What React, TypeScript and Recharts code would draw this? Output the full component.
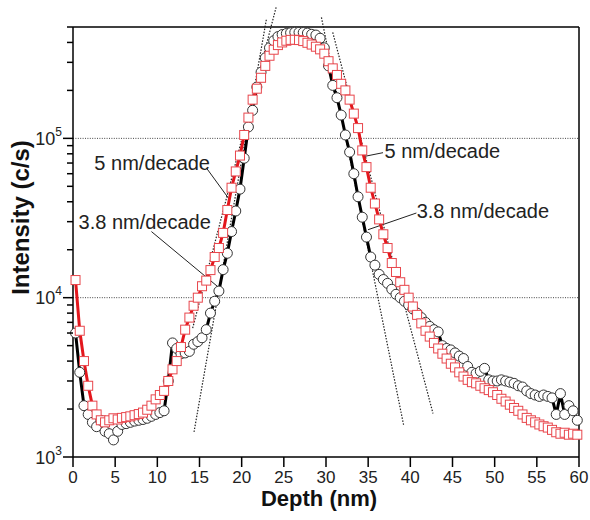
import { Line, LineChart, ReferenceDot, ReferenceLine, XAxis, YAxis } from "recharts";

// depth grid of both profiles (nm)
const depthNm = [
  0.3, 0.8, 1.3, 1.8, 2.3, 2.8, 3.3, 3.8, 4.3, 4.8,
  5.3, 5.8, 6.3, 6.8, 7.3, 7.8, 8.3, 8.8, 9.3, 9.8,
  10.3, 10.8, 11.3, 11.8, 12.3, 12.8, 13.3, 13.8, 14.3, 14.8,
  15.3, 15.8, 16.3, 16.8, 17.3, 17.8, 18.3, 18.8, 19.3, 19.8,
  20.3, 20.8, 21.3, 21.8, 22.3, 22.8, 23.3, 23.8, 24.3, 24.8,
  25.3, 25.8, 26.3, 26.8, 27.3, 27.8, 28.3, 28.8, 29.3, 29.8,
  30.3, 30.8, 31.3, 31.8, 32.3, 32.8, 33.3, 33.8, 34.3, 34.8,
  35.3, 35.8, 36.3, 36.8, 37.3, 37.8, 38.3, 38.8, 39.3, 39.8,
  40.3, 40.8, 41.3, 41.8, 42.3, 42.8, 43.3, 43.8, 44.3, 44.8,
  45.3, 45.8, 46.3, 46.8, 47.3, 47.8, 48.3, 48.8, 49.3, 49.8,
  50.3, 50.8, 51.3, 51.8, 52.3, 52.8, 53.3, 53.8, 54.3, 54.8,
  55.3, 55.8, 56.3, 56.8, 57.3, 57.8, 58.3, 58.8, 59.3, 59.8,
];

// black circles (c/s)
const circleCounts = [
  6000, 3400, 2100, 1850, 1650, 1550, 1700, 1450, 1400, 1280,
  1450, 1600, 1620, 1650, 1680, 1700, 1720, 1750, 1800, 1850,
  1900, 1950, 3000, 5200, 4800, 4450, 4500, 4600, 5100, 5300,
  5600, 6300, 8000, 9500, 11000, 15000, 19000, 26000, 35000, 48000,
  75000, 118000, 150000, 210000, 260000, 320000, 370000, 410000, 435000, 448000,
  455000, 460000, 463000, 463000, 462000, 458000, 450000, 445000, 425000, 370000,
  285000, 215000, 180000, 140000, 105000, 82000, 60000, 43000, 32000, 24000,
  18000, 16000, 14000, 13000, 12300, 11300, 10500, 10000, 9500, 9000,
  8500, 8000, 7500, 7000, 6600, 6300, 6100, 5000, 4800, 4700,
  4500, 4300, 4150, 3700, 3400, 3350, 3450, 3600, 3050, 3000,
  3000, 3050, 3000, 2950, 2900, 2800, 2750, 2600, 2500, 2450,
  2400, 2450, 2400, 2350, 1850, 2500, 1850, 2100, 1950, 1700,
];

// red squares (c/s)
const squareCounts = [
  12900, 6200, 4000, 2800, 2100, 1850, 1700, 1650, 1700, 1750,
  1720, 1760, 1780, 1800, 1830, 1860, 1900, 1980, 2100, 2300,
  2450, 2600, 3000, 3550, 4000, 4900, 6300, 7500, 8900, 10000,
  11800, 12800, 14900, 18000, 20500, 25500, 35500, 49000, 62000, 78000,
  105000, 135000, 175000, 205000, 240000, 285000, 330000, 360000, 385000, 400000,
  410000, 415000, 416000, 414000, 408000, 398000, 388000, 376000, 362000, 340000,
  305000, 275000, 250000, 220000, 200000, 175000, 143000, 116000, 84000, 66000,
  49000, 39000, 31000, 25000, 20500, 16500, 14500, 12500, 11200, 10000,
  8800, 7800, 6900, 6200, 5700, 5200, 4800, 4450, 4150, 3850,
  3650, 3400, 3200, 3050, 2950, 2900, 2800, 2700, 2630, 2550,
  2450, 2320, 2230, 2130, 2030, 1950, 1850, 1760, 1700, 1650,
  1600, 1560, 1530, 1480, 1430, 1400, 1420, 1380, 1400, 1380,
];

const xTicks = [0, 5, 10, 15, 20, 25, 30, 35, 40, 45, 50, 55, 60];
const yTicks = [
  1000, 2000, 3000, 4000, 5000, 6000, 7000, 8000, 9000,
  10000, 20000, 30000, 40000, 50000, 60000, 70000, 80000, 90000,
  100000, 200000, 300000, 400000, 500000,
];
const decadeLevels = [10000, 100000];

// dotted slope lines [depth, counts] -> [depth, counts]
const slopeLines = [
  [[14.35, 1436], [22.93, 558000]],
  [[14.19, 6440], [24.12, 676000]],
  [[29.46, 574000], [39.21, 1581]],
  [[30.8, 462000], [42.69, 1875]],
];

const noteTexts = ["5 nm/decade", "3.8 nm/decade", "5 nm/decade", "3.8 nm/decade"];
const noteAt = [[9.39, 70300], [8.5, 29900], [43.8, 82800], [48.6, 34800]];
const noteLeaders = [
  [[15.82, 65200], [18.58, 41100]],
  [[9.3, 26000], [17.19, 11700]],
  [[34.59, 77100], [36.76, 81300]],
  [[34.98, 26700], [40.72, 34000]],
];

const rows = depthNm.map((d, i) => ({ depth: d, circles: circleCounts[i], squares: squareCounts[i] }));

const FONT = "'Liberation Sans', Arial, Helvetica, sans-serif";
const majors = [1000, 10000, 100000];

function LogTick(props: any) {
  const { x, y, payload } = props;
  const v = payload.value;
  const major = majors.includes(v);
  return (
    <g>
      <line x1={x - (major ? 10 : 6)} x2={x} y1={y} y2={y} stroke="#000" strokeWidth={1.5} />
      {major && (
        <text x={x - 11} y={y + 6.5} textAnchor="end" fontSize={18} fill="#222" fontFamily={FONT}>
          10
          <tspan dy={-9} fontSize={12}>
            {Math.round(Math.log10(v))}
          </tspan>
        </text>
      )}
    </g>
  );
}

export default function App() {
  return (
    <div style={{ position: "absolute", left: 0, top: 0, background: "#fff" }}>
      <LineChart
        width={590}
        height={520}
        data={rows}
        margin={{ top: 27, right: 11, bottom: 28, left: 23 }}
        style={{ fontFamily: FONT }}
      >
        <XAxis
          dataKey="depth"
          type="number"
          domain={[0, 60]}
          ticks={xTicks}
          interval={0}
          height={35}
          tickSize={10}
          tickMargin={4}
          stroke="#000"
          strokeWidth={1.5}
          tick={{ fill: "#222", fontSize: 17, fontFamily: FONT }}
          label={{
            content: () => (
              <text x={319} y={506} textAnchor="middle" fontSize={22} fontWeight="bold" fill="#111" fontFamily={FONT}>
                Depth (nm)
              </text>
            ),
          }}
        />
        <YAxis
          scale="log"
          domain={[1000, 500000]}
          allowDataOverflow
          ticks={yTicks}
          interval={0}
          width={50}
          tickSize={0}
          tickMargin={0}
          tickLine={false}
          stroke="#000"
          strokeWidth={1.5}
          tick={<LogTick />}
          label={{
            content: () => (
              <text
                transform="translate(29,217.5) rotate(-90)"
                textAnchor="middle"
                fontSize={24}
                fontWeight="bold"
                fill="#111"
                fontFamily={FONT}
              >
                Intensity (c/s)
              </text>
            ),
          }}
        />
        <ReferenceLine y={500000} stroke="#000" strokeWidth={1.5} ifOverflow="visible" />
        <ReferenceLine x={60} stroke="#000" strokeWidth={1.5} ifOverflow="visible" />
        {decadeLevels.map((lv) => (
          <ReferenceLine key={lv} y={lv} stroke="#444" strokeWidth={1} strokeDasharray="1 1.4" />
        ))}
        {slopeLines.map((s, i) => (
          <ReferenceLine
            key={"s" + i}
            segment={[
              { x: s[0][0], y: s[0][1] },
              { x: s[1][0], y: s[1][1] },
            ]}
            stroke="#222"
            strokeWidth={1.2}
            strokeDasharray="1.5 1.5"
            ifOverflow="visible"
          />
        ))}
        {noteLeaders.map((s, i) => (
          <ReferenceLine
            key={"l" + i}
            segment={[
              { x: s[0][0], y: s[0][1] },
              { x: s[1][0], y: s[1][1] },
            ]}
            stroke="#222"
            strokeWidth={1}
            ifOverflow="visible"
          />
        ))}
        <Line
          dataKey="circles"
          stroke="#000"
          strokeWidth={3}
          isAnimationActive={false}
          dot={(p: any) => (
            <circle key={"c" + p.index} cx={p.cx} cy={p.cy} r={5} fill="#fff" stroke="#333" strokeWidth={1} />
          )}
          activeDot={false}
        />
        <Line
          dataKey="squares"
          stroke="#e3171d"
          strokeWidth={3}
          isAnimationActive={false}
          dot={(p: any) => (
            <rect
              key={"q" + p.index}
              x={p.cx - 4.5}
              y={p.cy - 4.5}
              width={9}
              height={9}
              fill="#fff"
              stroke="#e8464c"
              strokeWidth={1}
            />
          )}
          activeDot={false}
        />
        {noteAt.map((a, i) => (
          <ReferenceDot
            key={"n" + i}
            x={a[0]}
            y={a[1]}
            r={0}
            ifOverflow="visible"
            shape={(p: any) => (
              <text
                x={p.cx}
                y={p.cy}
                textAnchor="middle"
                dominantBaseline="central"
                fontSize={20}
                fill="#222"
                fontFamily={FONT}
              >
                {noteTexts[i]}
              </text>
            )}
          />
        ))}
      </LineChart>
    </div>
  );
}
